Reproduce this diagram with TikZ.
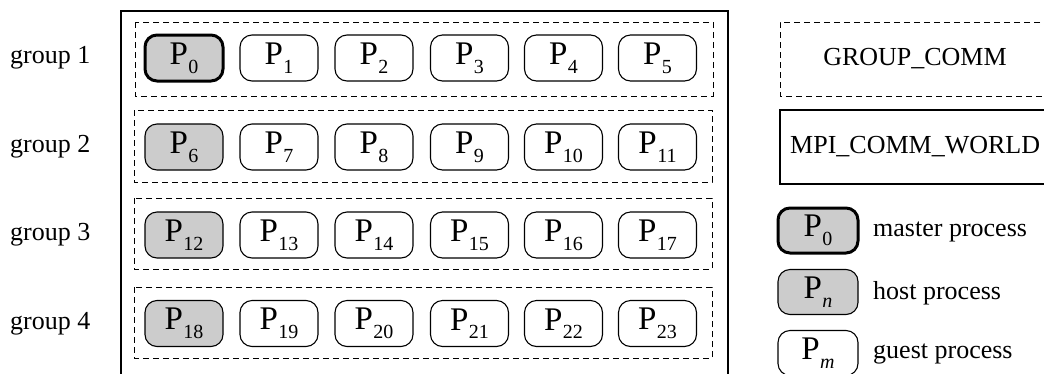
\documentclass[tikz,border=0pt]{standalone}
\usepackage{fontspec}
\setmainfont{Liberation Serif}
\newcommand{\pnm}[1]{P\kern0.5pt\raisebox{-0.26em}{\fontsize{20}{20}\selectfont #1}}
\tikzset{
  proc/.style={draw, line width=1.1pt, rounded corners=12pt, minimum width=78pt, minimum height=46pt, inner sep=0pt, font=\fontsize{33}{36}\selectfont, fill=white},
  host/.style={proc, fill=black!20},
  master/.style={proc, fill=black!20, line width=3pt},
  grpbox/.style={draw, line width=1pt, dash pattern=on 6pt off 4pt},
  lbl/.style={font=\fontsize{26}{30}\selectfont, inner sep=0pt},
}
\begin{document}
\begin{tikzpicture}[x=1pt,y=-1pt]
\useasboundingbox (0,0) rectangle (1044,373);
\clip (0,0) rectangle (1044,373);
% outer world box
\draw[line width=1.4pt] (121,380) -- (121,11) -- (728,11) -- (728,380);
% group boxes
\draw[grpbox] (135,22) rectangle (713,96);
\draw[grpbox] (134,110) rectangle (712,182);
\draw[grpbox] (134,198) rectangle (712,269);
\draw[grpbox] (134,287) rectangle (712,358);
% group labels
\node[lbl, anchor=west] (g1) at (10,58) {group 1};
\node[lbl, anchor=west] (g2) at (10,147) {group 2};
\node[lbl, anchor=west] (g3) at (10,235) {group 3};
\node[lbl, anchor=west] (g4) at (10,323.5) {group 4};
% processes
\foreach \r/\y in {0/58,1/147,2/235,3/323.5}{
  \foreach \c/\x in {0/184,1/279,2/374,3/469.5,4/563.5,5/657.5}{
    \pgfmathtruncatemacro{\k}{\r*6+\c}
    \ifnum\k=0
      \node[master] (p\k) at (\x,\y) {\pnm{\k}};
    \else\ifnum\c=0
      \node[host] (p\k) at (\x,\y) {\pnm{\k}};
    \else
      \node[proc] (p\k) at (\x,\y) {\pnm{\k}};
    \fi\fi
  }
}
% legend
\draw[grpbox] (1050,22) -- (780,22) -- (780,96) -- (1050,96);
\node[lbl] (gc) at (915,59) {GROUP\_COMM};
\draw[line width=1.1pt] (1050,110) -- (780,110) -- (780,184) -- (1050,184);
\node[lbl, anchor=west] (mcw) at (790,147) {MPI\_COMM\_WORLD};
\node[master, minimum width=80pt, minimum height=45pt] (lm) at (818,230.5) {\pnm{0}};
\node[host, minimum width=80pt, minimum height=45pt] (lh) at (818,292) {\pnm{\textit{n}}};
\node[proc, minimum width=80pt, minimum height=45pt] (lg) at (818,353) {\pnm{\textit{m}}};
\node[lbl, anchor=west] (tm) at (873,232) {master process};
\node[lbl, anchor=west] (th) at (873,293) {host process};
\node[lbl, anchor=west] (tg) at (873,354) {guest process};
\end{tikzpicture}
\end{document}
